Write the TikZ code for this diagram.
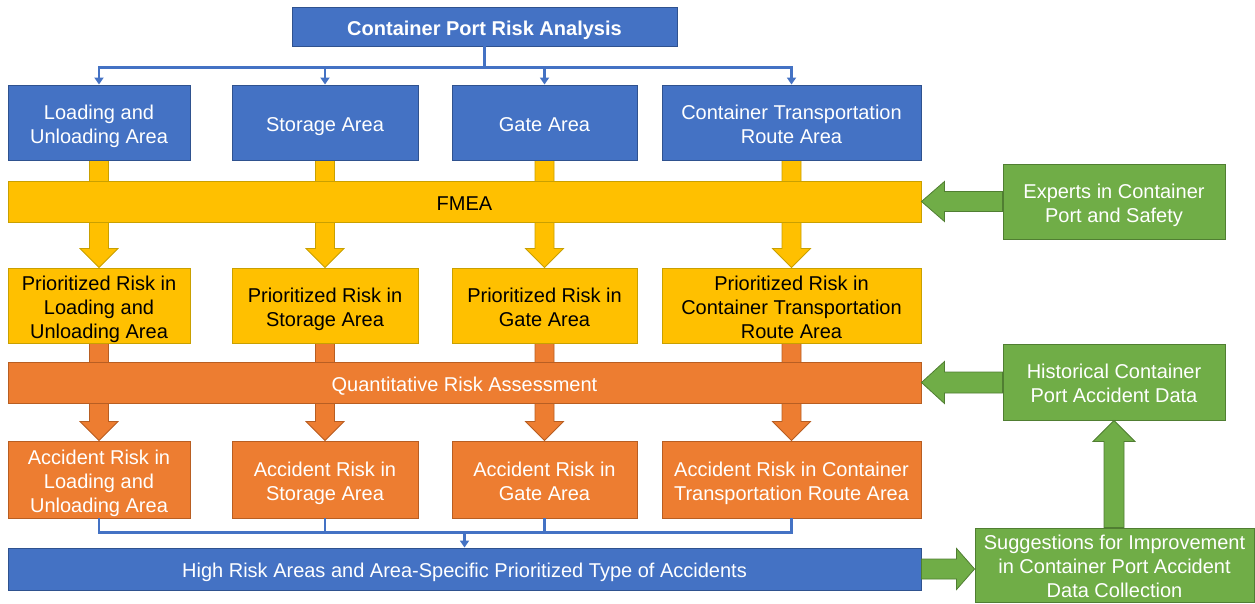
\documentclass[tikz,border=0pt]{standalone}
\usepackage{fontspec}
\setmainfont{Liberation Sans}
\usetikzlibrary{calc,arrows.meta,backgrounds}

\definecolor{cblue}{HTML}{4472C4}
\definecolor{cblueb}{HTML}{2F528F}
\definecolor{cgold}{HTML}{FFC000}
\definecolor{cgoldb}{HTML}{C9A000}
\definecolor{corange}{HTML}{ED7D31}
\definecolor{corangeb}{HTML}{B85E22}
\definecolor{cgreen}{HTML}{70AD47}
\definecolor{cgreenb}{HTML}{507E32}

\tikzset{
  x=1pt, y=-1pt,
  box/.style={draw, line width=0.9pt, minimum height=75pt, inner sep=0pt},
  boxtext/.style={align=center, inner sep=0pt, yshift=-4pt,
    font=\fontsize{20}{24}\selectfont},
  txtw/.style={label={[boxtext, text=white]center:\strut #1\strut}},
  txtk/.style={label={[boxtext, text=black]center:\strut #1\strut}},
  bluebox/.style={box, fill=cblue, draw=cblueb},
  goldbox/.style={box, fill=cgold, draw=cgoldb},
  orangebox/.style={box, fill=corange, draw=corangeb},
  greenbox/.style={box, fill=cgreen, draw=cgreenb},
  bar/.style={minimum height=41pt},
  link/.style={draw=cblue, line width=2.5pt},
  linkarrow/.style={link, -{Triangle[width=9pt,length=7pt]}},
  goldarrow/.style={fill=cgold, draw=cgoldb, line width=0.8pt, line join=miter},
  orangearrow/.style={fill=corange, draw=corangeb, line width=0.8pt, line join=miter},
  greenarrow/.style={fill=cgreen, draw=cgreenb, line width=0.8pt, line join=miter},
}

\begin{document}
\begin{tikzpicture}
\useasboundingbox (0,0) rectangle (1255,604);

% title
\node[bluebox, minimum width=385pt, minimum height=39pt,
      label={[boxtext, yshift=0.5pt, text=white,
              font=\fontsize{20}{24}\selectfont\bfseries]center:Container Port Risk Analysis}]
  (top) at (484.5,26.5) {};

% areas
\node[bluebox, minimum width=182pt, txtw={Loading and\\Unloading Area}] (a1) at (99,122.5) {};
\node[bluebox, minimum width=186pt, txtw={Storage Area}] (a2) at (325,122.5) {};
\node[bluebox, minimum width=185pt, txtw={Gate Area}] (a3) at (544.5,122.5) {};
\node[bluebox, minimum width=259pt, txtw={Container Transportation\\Route Area}] (a4) at (791.5,122.5) {};

% FMEA stage
\node[goldbox, bar, minimum width=913pt, txtk={FMEA}] (fmea) at (464.5,201.5) {};

\node[goldbox, minimum width=182pt, txtk={Prioritized Risk in\\Loading and\\Unloading Area}] (p1) at (99,305.5) {};
\node[goldbox, minimum width=186pt, txtk={Prioritized Risk in\\Storage Area}] (p2) at (325,305.5) {};
\node[goldbox, minimum width=185pt, txtk={Prioritized Risk in\\Gate Area}] (p3) at (544.5,305.5) {};
\node[goldbox, minimum width=259pt, txtk={Prioritized Risk in\\Container Transportation\\Route Area}] (p4) at (791.5,305.5) {};

% QRA stage
\node[orangebox, bar, minimum width=913pt, txtw={Quantitative Risk Assessment}] (qra) at (464.5,382.5) {};

\node[orangebox, minimum width=182pt, minimum height=77pt, txtw={Accident Risk in\\Loading and\\Unloading Area}] (r1) at (99,479.5) {};
\node[orangebox, minimum width=186pt, minimum height=77pt, txtw={Accident Risk in\\Storage Area}] (r2) at (325,479.5) {};
\node[orangebox, minimum width=185pt, minimum height=77pt, txtw={Accident Risk in\\Gate Area}] (r3) at (544.5,479.5) {};
\node[orangebox, minimum width=259pt, minimum height=77pt, txtw={Accident Risk in Container\\Transportation Route Area}] (r4) at (791.5,479.5) {};

% outcome
\node[bluebox, minimum width=913pt, minimum height=42pt,
      txtw={High Risk Areas and Area-Specific Prioritized Type of Accidents}] (out) at (464.5,569) {};

% inputs and feedback
\node[greenbox, minimum width=222pt, txtw={Experts in Container\\Port and Safety}] (exp) at (1114,201.5) {};
\node[greenbox, minimum width=222pt, minimum height=76pt, txtw={Historical Container\\Port Accident Data}] (hist) at (1114,382) {};
\node[greenbox, minimum width=279pt, minimum height=74pt, txtw={Suggestions for Improvement\\in Container Port Accident\\Data Collection}] (sug) at (1114.5,565) {};

% title to the four areas
\foreach \n in {a1,a2,a3,a4}
  \draw[linkarrow] (top.south) -- ++(0,21) -| (\n.north);

% accident risks to the outcome
\coordinate (bus) at ($(out.north)+(0,-15)$);
\draw[link] (r1.south) |- (bus) -| (r4.south);
\draw[link] (r2.south) -- (r2.south |- bus);
\draw[link] (r3.south) -- (r3.south |- bus);
\draw[linkarrow] (bus) -- (out.north);

% block arrows passing behind the stage bars
\begin{scope}[on background layer]
  \foreach \s/\t in {a1/p1,a2/p2,a3/p3,a4/p4}
    \draw[goldarrow] ($(\s.south)+(-9.5,0)$) -- ($(\t.north)+(-9.5,-19)$)
      -- ($(\t.north)+(-19,-19)$) -- (\t.north) -- ($(\t.north)+(19,-19)$)
      -- ($(\t.north)+(9.5,-19)$) -- ($(\s.south)+(9.5,0)$) -- cycle;
  \foreach \s/\t in {p1/r1,p2/r2,p3/r3,p4/r4}
    \draw[orangearrow] ($(\s.south)+(-9.5,0)$) -- ($(\t.north)+(-9.5,-19)$)
      -- ($(\t.north)+(-19,-19)$) -- (\t.north) -- ($(\t.north)+(19,-19)$)
      -- ($(\t.north)+(9.5,-19)$) -- ($(\s.south)+(9.5,0)$) -- cycle;
\end{scope}

% green block arrows
\draw[greenarrow] (exp.west |- fmea.east) ++(0,-10) -- ($(fmea.east)+(23,-10)$)
  -- ($(fmea.east)+(23,-20)$) -- (fmea.east) -- ($(fmea.east)+(23,20)$)
  -- ($(fmea.east)+(23,10)$) -- ($(exp.west |- fmea.east)+(0,10)$) -- cycle;
\draw[greenarrow] (hist.west |- qra.east) ++(0,-10.5) -- ($(qra.east)+(23,-10.5)$)
  -- ($(qra.east)+(23,-21)$) -- (qra.east) -- ($(qra.east)+(23,21)$)
  -- ($(qra.east)+(23,10.5)$) -- ($(hist.west |- qra.east)+(0,10.5)$) -- cycle;
\coordinate (sugtip) at (sug.west |- out.east);
\draw[greenarrow] ($(out.east)+(0,-10)$) -- ($(sugtip)+(-18,-10)$)
  -- ($(sugtip)+(-18,-20.5)$) -- (sugtip) -- ($(sugtip)+(-18,20.5)$)
  -- ($(sugtip)+(-18,10)$) -- ($(out.east)+(0,10)$) -- cycle;
\coordinate (uptail) at (sug.north -| hist.south);
\draw[greenarrow] ($(uptail)+(-10,0)$) -- ($(hist.south)+(-10,21)$)
  -- ($(hist.south)+(-21,21)$) -- (hist.south) -- ($(hist.south)+(21,21)$)
  -- ($(hist.south)+(10,21)$) -- ($(uptail)+(10,0)$) -- cycle;
\end{tikzpicture}
\end{document}
